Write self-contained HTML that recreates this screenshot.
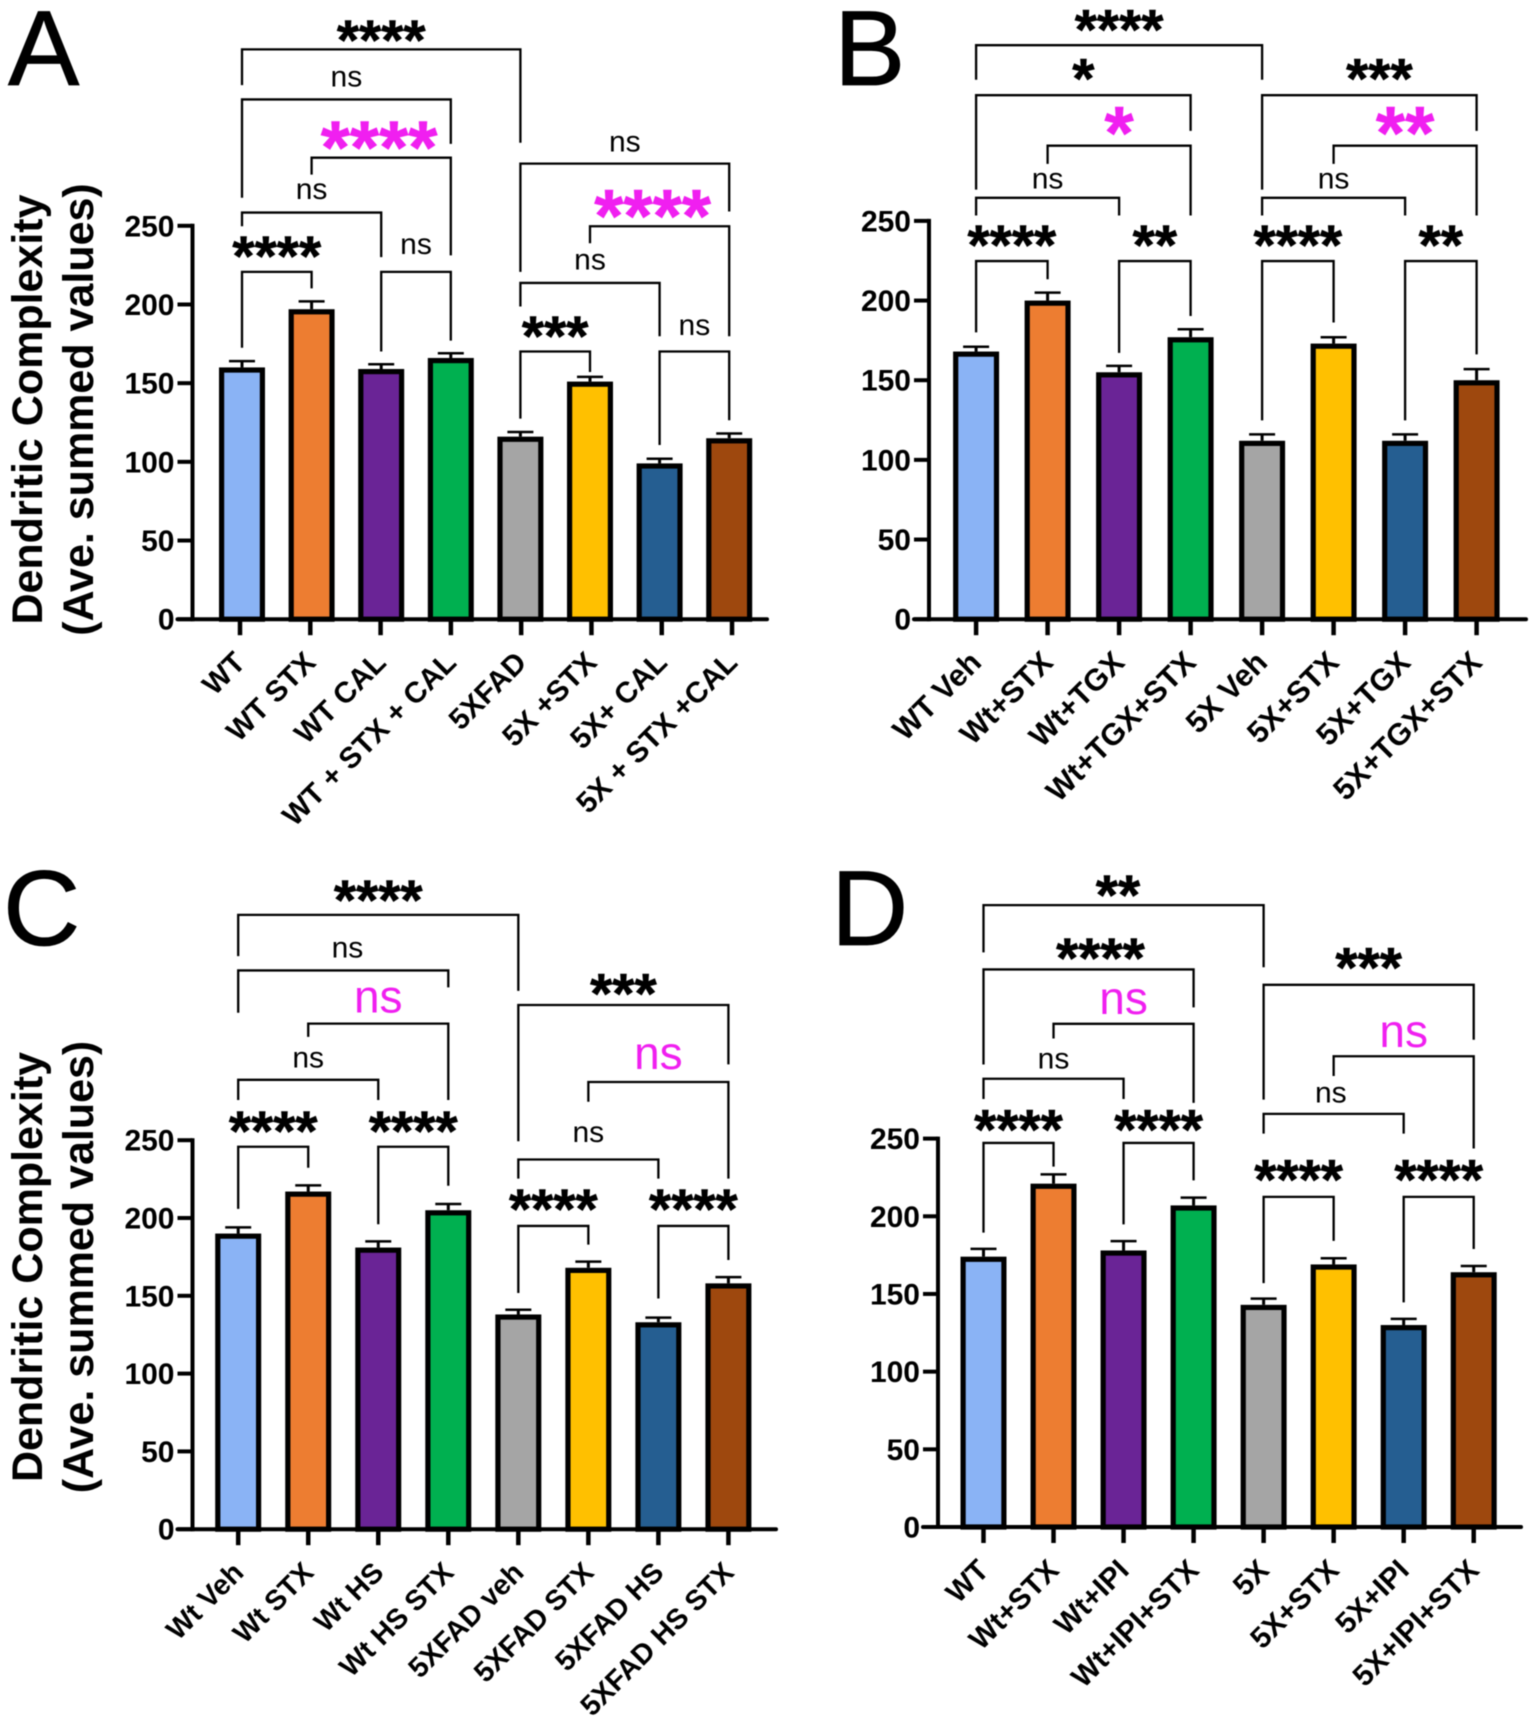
<!DOCTYPE html>
<html lang="en">
<head>
<meta charset="utf-8">
<title>Dendritic Complexity Panels</title>
<style>
html,body{margin:0;padding:0;background:#fff;}
svg{display:block;font-family:"Liberation Sans",Arial,sans-serif;filter:blur(0.4px);}
</style>
</head>
<body>
<svg id="figure" xmlns="http://www.w3.org/2000/svg" width="1535" height="1721" viewBox="0 0 1535 1721"></svg>
<script>
const yTickValues = [0, 50, 100, 150, 200, 250];

const panelACategories = ["WT", "WT STX", "WT CAL", "WT + STX + CAL", "5XFAD", "5X +STX", "5X+ CAL", "5X + STX +CAL"];
const panelAValues = [160, 197, 159, 166, 116, 151, 99, 115];
const panelAErrors = [4, 5, 3, 3, 3, 3, 3, 3];
// from, to, top, left end, right end, label, label height, ink, label offset (axis units / group indices)
const panelABrackets = [
  [0, 4, 362.1, 339.4, 302.8, "****", 372.6, "k", 0],
  [0, 3, 330.3, 267.8, 302.1, "ns", 344.7, "k", 0],
  [1, 3, 293.3, 282.5, 231.2, "****", 306.9, "m", -0.03],
  [0, 2, 258.4, 249.7, 230.1, "ns", 273.1, "k", 0],
  [0, 1, 220.7, 172.5, 210.2, "****", 235.4, "k", 0],
  [2, 3, 220.7, 170.1, 177.0, "ns", 238.2, "k", 0],
  [4, 7, 289.5, 220.7, 259.1, "ns", 303.5, "k", 0],
  [5, 7, 249.7, 238.9, 179.8, "****", 263.3, "m", -0.1],
  [4, 6, 213.7, 198.7, 179.8, "ns", 228.4, "k", 0],
  [4, 5, 170.1, 127.5, 157.1, "***", 184.7, "k", 0],
  [6, 7, 170.1, 110.7, 126.4, "ns", 186.8, "k", 0]
];

const panelBCategories = ["WT Veh", "Wt+STX", "Wt+TGX", "Wt+TGX+STX", "5X Veh", "5X+STX", "5X+TGX", "5X+TGX+STX"];
const panelBValues = [168, 200, 155, 177, 112, 173, 112, 150];
const panelBErrors = [3, 5, 4, 5, 4, 4, 4, 7];
const panelBBrackets = [
  [0, 4, 360.3, 338.6, 338.6, "****", 374.8, "k", 0],
  [0, 3, 328.9, 269.6, 306.5, "*", 343.8, "k", 0],
  [1, 3, 297.2, 285.8, 253.4, "*", 312.0, "m", 0],
  [0, 2, 264.5, 253.4, 253.4, "ns", 276.5, "k", 0],
  [0, 1, 224.8, 180.0, 213.4, "****", 239.6, "k", 0],
  [2, 3, 224.8, 167.2, 190.3, "**", 239.6, "k", 0],
  [4, 7, 328.9, 269.6, 306.5, "***", 343.8, "k", 0.14],
  [5, 7, 297.2, 285.8, 253.4, "**", 312.0, "m", 0],
  [4, 6, 264.5, 253.4, 253.4, "ns", 276.5, "k", 0],
  [4, 5, 224.8, 124.8, 186.2, "****", 239.6, "k", 0],
  [6, 7, 224.8, 124.8, 166.2, "**", 239.6, "k", 0]
];

const panelCCategories = ["Wt Veh", "Wt STX", "Wt HS", "Wt HS STX", "5XFAD veh", "5XFAD STX", "5XFAD HS", "5XFAD HS STX"];
const panelCValues = [190, 217, 181, 205, 138, 168, 133, 158];
const panelCErrors = [4, 4, 4, 4, 3, 4, 3, 4];
const panelCBrackets = [
  [0, 4, 394.8, 368.3, 346.0, "****", 408.9, "k", 0],
  [0, 3, 359.1, 331.9, 348.2, "ns", 373.6, "k", 0.06],
  [1, 3, 324.9, 316.4, 275.8, "ns", 341.1, "m", 0],
  [0, 2, 288.8, 275.8, 275.8, "ns", 303.0, "k", 0],
  [0, 1, 245.8, 205.9, 232.3, "****", 260.6, "k", 0],
  [2, 3, 245.8, 196.0, 220.7, "****", 260.6, "k", 0],
  [4, 7, 336.9, 249.3, 298.7, "***", 348.9, "k", 0],
  [5, 7, 287.4, 274.7, 225.3, "ns", 304.7, "m", 0],
  [4, 6, 237.6, 225.3, 225.3, "ns", 255.3, "k", 0],
  [4, 5, 194.9, 151.8, 182.9, "****", 210.5, "k", 0],
  [6, 7, 194.9, 148.3, 173.0, "****", 210.5, "k", 0]
];

const panelDCategories = ["WT", "Wt+STX", "Wt+IPI", "Wt+IPI+STX", "5X", "5X+STX", "5X+IPI", "5X+IPI+STX"];
const panelDValues = [174, 221, 178, 207, 143, 169, 130, 164];
const panelDErrors = [5, 6, 6, 5, 4, 4, 4, 4];
const panelDBrackets = [
  [0, 4, 400.3, 369.9, 360.3, "**", 411.6, "k", -0.08],
  [0, 3, 358.9, 297.7, 334.5, "****", 370.9, "k", 0.17],
  [1, 3, 323.9, 314.4, 273.0, "ns", 339.1, "m", 0],
  [0, 2, 288.5, 275.5, 275.5, "ns", 301.3, "k", 0],
  [0, 1, 247.2, 189.5, 232.0, "****", 260.6, "k", 0],
  [2, 3, 247.2, 194.8, 223.1, "****", 260.6, "k", 0],
  [4, 7, 349.0, 275.1, 313.6, "***", 364.9, "k", 0],
  [5, 7, 303.0, 290.3, 243.6, "ns", 317.9, "m", 0],
  [4, 6, 265.9, 253.2, 253.2, "ns", 279.7, "k", -0.04],
  [4, 5, 212.5, 157.0, 184.2, "****", 228.4, "k", 0],
  [6, 7, 212.5, 144.6, 178.9, "****", 228.4, "k", 0]
];

const barColors = ["#8ab3f5", "#ed7d31", "#6a2496", "#00b050", "#a5a5a5", "#ffc000", "#255e91", "#9e480e"];
const NS = "http://www.w3.org/2000/svg";
const root = document.getElementById("figure");

function make(parent, tag, attrs, content) {
  const node = document.createElementNS(NS, tag);
  Object.keys(attrs).forEach(function (k) { node.setAttribute(k, attrs[k]); });
  if (content !== undefined) node.textContent = content;
  parent.appendChild(node);
  return node;
}

function drawPanel(p) {
  const yScale = function (v) { return p.y0 - (p.y0 - p.y250) * v / 250; };
  const xScale = function (i) { return p.x0 + p.dx * i; };

  const group = make(root, "g", {});
  
  

  const letter = make(group, "text", { x: p.letterX, y: p.letterY, "font-size": 107, fill: "#000", stroke: "#000", "stroke-width": 0.8 }, p.letter);
  
  

  if (p.titleY) {
    const t1 = make(group, "text", { transform: "translate(42," + p.titleY + ") rotate(-90)", "text-anchor": "middle", "font-size": 43, "font-weight": "bold", fill: "#000" }, "Dendritic Complexity");
    
    
    const t2 = make(group, "text", { transform: "translate(93," + p.titleY + ") rotate(-90)", "text-anchor": "middle", "font-size": 43, "font-weight": "bold", fill: "#000" }, "(Ave. summed values)");
    
    
  }

  p.values.forEach(function (v, i) {
    const cx = xScale(i);
    const err = p.errors[i];
    const stem = make(group, "line", { x1: cx, x2: cx, y1: yScale(v), y2: yScale(v + err), stroke: "#000", "stroke-width": 3 });
    
    
    const cap = make(group, "line", { x1: cx - 13, x2: cx + 13, y1: yScale(v + err), y2: yScale(v + err), stroke: "#000", "stroke-width": 2.5 });
    
    
    const bar = make(group, "rect", { x: cx - 20.4, y: yScale(v) + 2.6, width: 40.8, height: p.y0 - yScale(v) - 2.6, fill: barColors[i], stroke: "#000", "stroke-width": 5.2 });
    
    
  });

  const yAxis = make(group, "line", { x1: p.axisX, x2: p.axisX, y1: yScale(250) - 2, y2: p.y0 + 2, stroke: "#000", "stroke-width": 4 });
  
  
  const xAxis = make(group, "line", { x1: p.axisX - 15, x2: p.axisEnd, y1: p.y0, y2: p.y0, stroke: "#000", "stroke-width": 4, "stroke-linecap": "round" });
  
  

  yTickValues.forEach(function (t) {
    const y = yScale(t);
    const mark = make(group, "line", { x1: p.axisX - 15, x2: p.axisX, y1: y, y2: y, stroke: "#000", "stroke-width": 4 });
    
    
    const lab = make(group, "text", { x: p.axisX - 18, y: y + 10.5, "text-anchor": "end", "font-size": 30, "font-weight": "bold", fill: "#000" }, String(t));
    
    
  });

  p.categories.forEach(function (c, i) {
    const cx = xScale(i);
    const tx = cx - p.tickShift + i * p.tickSpread;
    const mark = make(group, "line", { x1: tx, x2: tx, y1: p.y0, y2: p.y0 + 16, stroke: "#000", "stroke-width": 4.5 });
    
    
    const lx = tx + 7;
    const ly = p.y0 + 45;
    const lab = make(group, "text", { transform: "translate(" + lx + "," + ly + ") rotate(-45)", "text-anchor": "end", "font-size": p.labelSize, "font-weight": "bold", fill: "#000" }, c);
    
    
  });

  p.brackets.forEach(function (b) {
    const xa = xScale(b[0]);
    const xb = xScale(b[1]);
    const d = "M" + xa + " " + yScale(b[3]) + "V" + yScale(b[2]) + "H" + xb + "V" + yScale(b[4]);
    const path = make(group, "path", { d: d, fill: "none", stroke: "#000", "stroke-width": 2.3 });
    
    
    const stars = b[5].charAt(0) === "*";
    const magenta = b[7] === "m";
    const ink = magenta ? "#f01ff0" : "#000";
    const size = stars ? (magenta ? 75 : 57) : (magenta ? 46 : 30);
    const offset = stars ? size * (magenta ? 0.495 : 0.47) : size * 0.26 + 2;
    const lab = make(group, "text", {
      x: (xa + xb) / 2 + b[8] * p.dx,
      y: yScale(b[6]) + offset,
      "text-anchor": "middle",
      "font-size": size,
      "font-weight": stars ? "bold" : "normal",
      fill: ink,
      stroke: stars ? ink : "none",
      "stroke-width": stars ? 0.6 : 0
    }, b[5]);
    
    
  });
}

drawPanel({ letter: "A", letterX: 8, letterY: 85, titleY: 409.5, labelSize: 29.5, x0: 242, dx: 69.6, tickShift: 2, tickSpread: 0.69, axisX: 192.5, axisEnd: 767, y0: 619.2, y250: 225.8,
  categories: panelACategories, values: panelAValues, errors: panelAErrors, brackets: panelABrackets });
drawPanel({ letter: "B", letterX: 834, letterY: 85, titleY: 0, labelSize: 30.5, x0: 976.1, dx: 71.5, tickShift: 0, tickSpread: 0, axisX: 929, axisEnd: 1526, y0: 619.2, y250: 220.9,
  categories: panelBCategories, values: panelBValues, errors: panelBErrors, brackets: panelBBrackets });
drawPanel({ letter: "C", letterX: 3, letterY: 945, titleY: 1267, labelSize: 28.5, x0: 238.2, dx: 70.03, tickShift: 0, tickSpread: 0, axisX: 192.5, axisEnd: 776, y0: 1529.2, y250: 1140.2,
  categories: panelCCategories, values: panelCValues, errors: panelCErrors, brackets: panelCBrackets });
drawPanel({ letter: "D", letterX: 831, letterY: 945, titleY: 0, labelSize: 29.5, x0: 983.5, dx: 70.03, tickShift: 0, tickSpread: 0, axisX: 938, axisEnd: 1521, y0: 1527, y250: 1138.6,
  categories: panelDCategories, values: panelDValues, errors: panelDErrors, brackets: panelDBrackets });
</script>
</body>
</html>
